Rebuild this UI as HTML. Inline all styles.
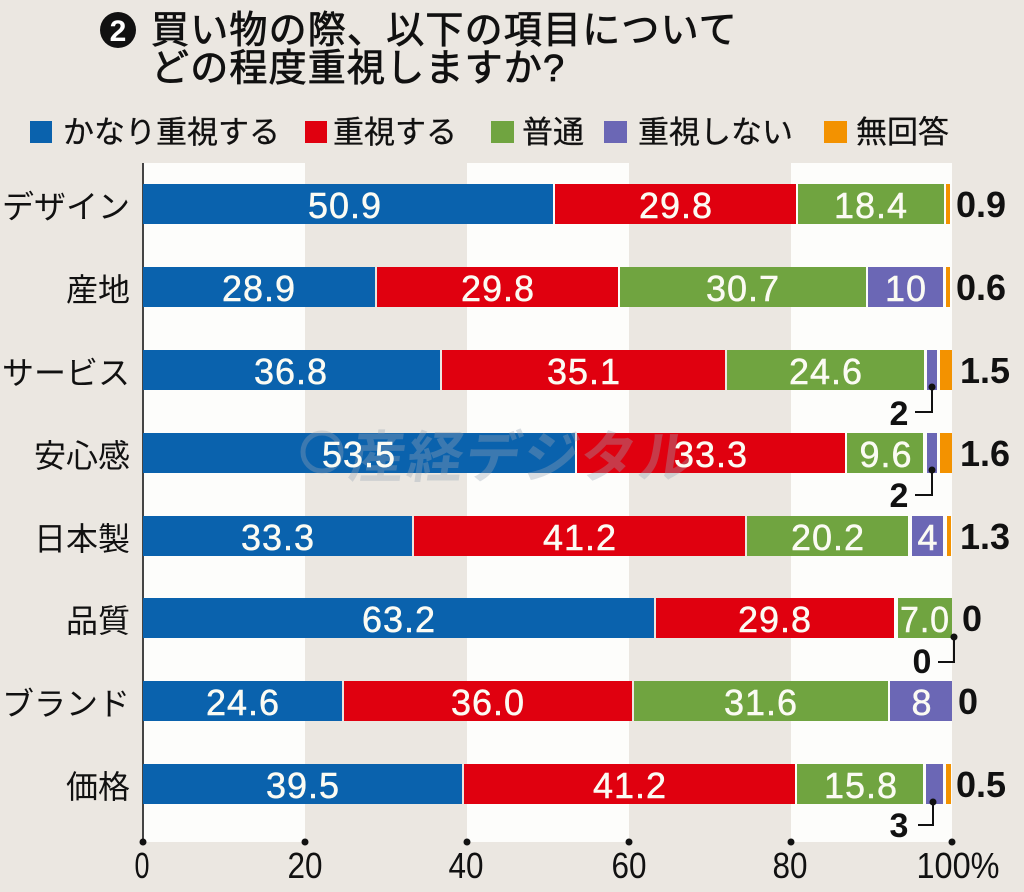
<!DOCTYPE html>
<html><head><meta charset="utf-8"><style>
html,body{margin:0;padding:0;background:#ebe7e1;}
svg{display:block;}
.jp{font-family:"Liberation Sans","Noto Sans CJK JP",sans-serif;}
.v{font-family:"Liberation Sans",sans-serif;font-size:36px;fill:#fbfbf3;stroke:#fbfbf3;stroke-width:0.5px;text-anchor:middle;letter-spacing:1px;}
.r{font-family:"Liberation Sans",sans-serif;font-size:36px;font-weight:bold;fill:#111;}
.a{font-family:"Liberation Sans",sans-serif;font-size:34px;font-weight:bold;fill:#111;text-anchor:middle;}
.t{font-family:"Liberation Sans",sans-serif;font-size:36px;fill:#111;text-anchor:middle;}
</style></head><body>
<svg width="1024" height="892" viewBox="0 0 1024 892" xmlns="http://www.w3.org/2000/svg">
<rect width="1024" height="892" fill="#ebe7e1"/>
<!-- title -->
<circle cx="118" cy="30" r="18" fill="#111"/>
<text x="118" y="41" font-family="Liberation Sans,sans-serif" font-weight="bold" font-size="30" fill="#fff" text-anchor="middle">2</text>
<text class="jp" x="151" y="43" font-size="38" letter-spacing="1.2" fill="#111" stroke="#111" stroke-width="0.8">買い物の際、以下の項目について</text>
<text class="jp" x="151" y="81" font-size="38" letter-spacing="1.2" fill="#111" stroke="#111" stroke-width="0.8">どの程度重視しますか?</text>
<!-- legend -->
<rect x="30" y="121" width="22" height="22" fill="#0a62ad"/>
<text class="jp" x="63" y="143" font-size="31" fill="#111" stroke="#111" stroke-width="0.3">かなり重視する</text>
<rect x="305" y="121" width="22" height="22" fill="#e0000f"/>
<text class="jp" x="333" y="143" font-size="31" fill="#111" stroke="#111" stroke-width="0.3">重視する</text>
<rect x="491" y="121" width="23" height="22" fill="#70a440"/>
<text class="jp" x="522" y="143" font-size="31" fill="#111" stroke="#111" stroke-width="0.3">普通</text>
<rect x="604" y="121" width="23" height="22" fill="#6b67b5"/>
<text class="jp" x="638" y="143" font-size="31" fill="#111" stroke="#111" stroke-width="0.3">重視しない</text>
<rect x="824" y="121" width="23" height="22" fill="#f39200"/>
<text class="jp" x="856" y="143" font-size="31" fill="#111" stroke="#111" stroke-width="0.3">無回答</text>
<!-- white bands -->
<rect x="143" y="163" width="162" height="679" fill="#fdfdfb"/>
<rect x="467" y="163" width="162" height="679" fill="#fdfdfb"/>
<rect x="791" y="163" width="161" height="679" fill="#fdfdfb"/>
<!-- axis -->
<line x1="143" y1="163" x2="143" y2="842" stroke="#444" stroke-width="2"/>
<g fill="#111">
<circle cx="143" cy="842" r="3.5"/><circle cx="305" cy="842" r="3.5"/><circle cx="467" cy="842" r="3.5"/>
<circle cx="629" cy="842" r="3.5"/><circle cx="791" cy="842" r="3.5"/><circle cx="952" cy="842" r="3.5"/>
</g>
<text class="t" x="142" y="878" textLength="15" lengthAdjust="spacingAndGlyphs">0</text>
<text class="t" x="305" y="878" textLength="35" lengthAdjust="spacingAndGlyphs">20</text>
<text class="t" x="466" y="878" textLength="35" lengthAdjust="spacingAndGlyphs">40</text>
<text class="t" x="629" y="878" textLength="35" lengthAdjust="spacingAndGlyphs">60</text>
<text class="t" x="790" y="878" textLength="35" lengthAdjust="spacingAndGlyphs">80</text>
<text class="t" x="958" y="878" textLength="83" lengthAdjust="spacingAndGlyphs">100%</text>
<!-- row labels -->
<g class="jp" font-size="32" fill="#111" text-anchor="end">
<text x="130" y="218">デザイン</text>
<text x="130" y="301">産地</text>
<text x="130" y="384">サービス</text>
<text x="130" y="467">安心感</text>
<text x="130" y="550">日本製</text>
<text x="130" y="632">品質</text>
<text x="130" y="715">ブランド</text>
<text x="130" y="798">価格</text>
</g>
<!-- bars -->
<g>
<rect x="143" y="184" width="410" height="40" fill="#0a62ad"/>
<rect x="555" y="184" width="241" height="40" fill="#e0000f"/>
<rect x="798" y="184" width="146" height="40" fill="#70a440"/>
<rect x="946" y="184" width="4" height="40" fill="#f39200"/>

<rect x="143" y="267" width="232" height="40" fill="#0a62ad"/>
<rect x="377" y="267" width="241" height="40" fill="#e0000f"/>
<rect x="620" y="267" width="246" height="40" fill="#70a440"/>
<rect x="868" y="267" width="75" height="40" fill="#6b67b5"/>
<rect x="946" y="267" width="4" height="40" fill="#f39200"/>

<rect x="143" y="350" width="297" height="40" fill="#0a62ad"/>
<rect x="442" y="350" width="283" height="40" fill="#e0000f"/>
<rect x="727" y="350" width="197" height="40" fill="#70a440"/>
<rect x="927" y="350" width="10" height="40" fill="#6b67b5"/>
<rect x="940" y="350" width="12" height="40" fill="#f39200"/>

<rect x="143" y="433" width="432" height="40" fill="#0a62ad"/>
<rect x="577" y="433" width="268" height="40" fill="#e0000f"/>
<rect x="847" y="433" width="76" height="40" fill="#70a440"/>
<rect x="927" y="433" width="10" height="40" fill="#6b67b5"/>
<rect x="940" y="433" width="12" height="40" fill="#f39200"/>

<rect x="143" y="516" width="269" height="40" fill="#0a62ad"/>
<rect x="414" y="516" width="331" height="40" fill="#e0000f"/>
<rect x="747" y="516" width="161" height="40" fill="#70a440"/>
<rect x="912" y="516" width="31" height="40" fill="#6b67b5"/>
<rect x="947" y="516" width="4" height="40" fill="#f39200"/>

<rect x="143" y="598" width="511" height="40" fill="#0a62ad"/>
<rect x="656" y="598" width="238" height="40" fill="#e0000f"/>
<rect x="898" y="598" width="54" height="40" fill="#70a440"/>

<rect x="143" y="681" width="199" height="40" fill="#0a62ad"/>
<rect x="344" y="681" width="288" height="40" fill="#e0000f"/>
<rect x="634" y="681" width="254" height="40" fill="#70a440"/>
<rect x="890" y="681" width="62" height="40" fill="#6b67b5"/>

<rect x="143" y="764" width="319" height="40" fill="#0a62ad"/>
<rect x="464" y="764" width="331" height="40" fill="#e0000f"/>
<rect x="797" y="764" width="126" height="40" fill="#70a440"/>
<rect x="926" y="764" width="17" height="40" fill="#6b67b5"/>
<rect x="946" y="764" width="5" height="40" fill="#f39200"/>
</g>
<!-- watermark -->
<g opacity="0.35">
<circle cx="322" cy="452" r="19" fill="none" stroke="#9aa6b6" stroke-width="5"/>
<text class="jp" x="350" y="477" font-size="56" font-weight="bold" letter-spacing="2" fill="#9aa6b6" transform="skewX(-8) translate(64,0)">産経デジタル</text>
</g>
<!-- values -->
<g>
<text class="v" x="345" y="218">50.9</text>
<text class="v" x="676" y="218">29.8</text>
<text class="v" x="871" y="218">18.4</text>

<text class="v" x="259" y="301">28.9</text>
<text class="v" x="498" y="301">29.8</text>
<text class="v" x="743" y="301">30.7</text>
<text class="v" x="906" y="301">10</text>

<text class="v" x="291" y="384">36.8</text>
<text class="v" x="584" y="384">35.1</text>
<text class="v" x="826" y="384">24.6</text>

<text class="v" x="359" y="467">53.5</text>
<text class="v" x="711" y="467">33.3</text>
<text class="v" x="886" y="467">9.6</text>

<text class="v" x="278" y="550">33.3</text>
<text class="v" x="580" y="550">41.2</text>
<text class="v" x="828" y="550">20.2</text>
<text class="v" x="928" y="550">4</text>

<text class="v" x="399" y="632">63.2</text>
<text class="v" x="775" y="632">29.8</text>
<text class="v" x="925" y="632" letter-spacing="0" textLength="50" lengthAdjust="spacingAndGlyphs">7.0</text>

<text class="v" x="243" y="715">24.6</text>
<text class="v" x="488" y="715">36.0</text>
<text class="v" x="761" y="715">31.6</text>
<text class="v" x="922" y="715">8</text>

<text class="v" x="303" y="798">39.5</text>
<text class="v" x="630" y="798">41.2</text>
<text class="v" x="861" y="798">15.8</text>
</g>
<!-- right labels -->
<g>
<text class="r" x="956" y="217">0.9</text>
<text class="r" x="956" y="300">0.6</text>
<text class="r" x="960" y="383">1.5</text>
<text class="r" x="960" y="466">1.6</text>
<text class="r" x="960" y="549">1.3</text>
<text class="r" x="962" y="631">0</text>
<text class="r" x="958" y="714">0</text>
<text class="r" x="956" y="797">0.5</text>
</g>
<!-- annotations -->
<g stroke="#111" stroke-width="2" fill="none">
<polyline points="932,387 932,412 915,412"/>
<polyline points="932,470 932,495 915,495"/>
<polyline points="954,637 954,662 938,662"/>
<polyline points="933,802 933,825 918,825"/>
</g>
<g fill="#111">
<circle cx="932" cy="387" r="3.5"/>
<circle cx="932" cy="470" r="3.5"/>
<circle cx="954" cy="637" r="3.5"/>
<circle cx="933" cy="802" r="3.5"/>
</g>
<text class="a" x="899" y="425">2</text>
<text class="a" x="899" y="507">2</text>
<text class="a" x="922" y="673">0</text>
<text class="a" x="899" y="837">3</text>
</svg>
</body></html>
